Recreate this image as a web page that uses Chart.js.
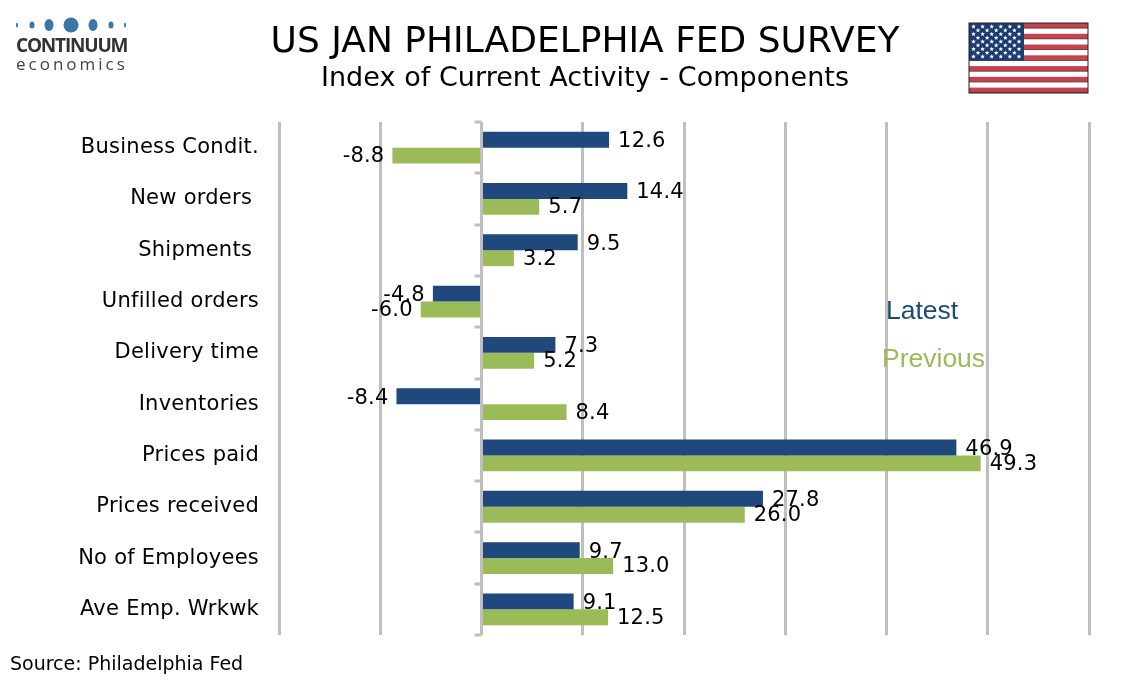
<!DOCTYPE html>
<html>
<head>
<meta charset="utf-8">
<title>US JAN PHILADELPHIA FED SURVEY</title>
<script src="https://cdn.jsdelivr.net/npm/chart.js@4"></script>
<style>
  html, body { margin: 0; padding: 0; background: #fff; overflow: hidden; }
  canvas { display: block; }
</style>
</head>
<body>
<canvas id="chart" width="1134" height="680"></canvas>
<script>
const categories = ['Business Condit.', 'New orders ', 'Shipments ', 'Unfilled orders', 'Delivery time',
  'Inventories', 'Prices paid', 'Prices received', 'No of Employees', 'Ave Emp. Wrkwk']
const latest = [12.6, 14.4, 9.5, -4.8, 7.3, -8.4, 46.9, 27.8, 9.7, 9.1]
const previous = [-8.8, 5.7, 3.2, -6.0, 5.2, 8.4, 49.3, 26.0, 13.0, 12.5]

const BLUE = '#1f497d'
const GREEN = '#9bbb59'
const GRID = '#bfbfbf'
const FONT = '"DejaVu Sans"'

function text(ctx, str, x, y, font, color, align, spacing) {
  ctx.font = font
  ctx.fillStyle = color
  ctx.textAlign = align || 'left'
  ctx.textBaseline = 'middle'
  ctx.letterSpacing = spacing || '0px'
  ctx.fillText(str, x, y)
  ctx.letterSpacing = '0px'
}

function drawLogo(ctx) {
  const dots = [[17, 1, 2.5], [32, 2.5, 3.5], [49, 4.5, 6], [71, 7.5, 7.5], [93, 4.5, 6], [111, 2.5, 3.5], [125, 1, 2.5]]
  ctx.fillStyle = '#3a76a8'
  dots.forEach(d => {
    ctx.beginPath()
    ctx.ellipse(d[0], 25, d[1], d[2], 0, 0, Math.PI * 2)
    ctx.fill()
  })
  text(ctx, 'CONTINUUM', 16, 47, '700 19px "Open Sans"', '#333333', 'left', '-1.2px')
  text(ctx, 'economics', 16, 65, '17px "Open Sans"', '#444444', 'left', '3px')
}

function star(ctx, cx, cy, r) {
  ctx.beginPath()
  for (let i = 0; i < 10; i++) {
    const a = -Math.PI / 2 + i * Math.PI / 5
    const rad = i % 2 ? r * 0.45 : r
    ctx.lineTo(cx + Math.cos(a) * rad, cy + Math.sin(a) * rad)
  }
  ctx.closePath()
  ctx.fill()
}

function drawFlag(ctx) {
  const x = 969, y = 23, w = 119, h = 70
  const stripe = h / 13
  ctx.fillStyle = '#ffffff'
  ctx.fillRect(x, y, w, h)
  for (let i = 0; i < 13; i += 2) {
    ctx.fillStyle = '#c4434f'
    ctx.fillRect(x, y + i * stripe, w, stripe)
    ctx.fillStyle = '#5a3a3c'
    ctx.fillRect(x, y + (i + 1) * stripe - 0.7, w, 0.7)
  }
  ctx.fillStyle = '#1c3c70'
  ctx.fillRect(x, y, 55, stripe * 7)
  ctx.fillStyle = '#ffffff'
  for (let row = 0; row < 9; row++) {
    const count = row % 2 ? 5 : 6
    for (let col = 0; col < count; col++) {
      star(ctx, x + (row % 2 ? 9 : 4.5) + col * 9.1, y + 3.6 + row * 3.75, 2.4)
    }
  }
  ctx.strokeStyle = '#222222'
  ctx.lineWidth = 1
  ctx.strokeRect(x, y, w, h)
}

const decorations = {
  id: 'decorations',
  afterDraw(chart) {
    const ctx = chart.ctx
    ctx.save()
    drawLogo(ctx)
    drawFlag(ctx)
    text(ctx, 'US JAN PHILADELPHIA FED SURVEY', 585, 43, '36px ' + FONT, '#000000', 'center')
    text(ctx, 'Index of Current Activity - Components', 585, 79, '27px ' + FONT, '#000000', 'center', '0.05px')
    text(ctx, 'Latest', 886, 312, '26.5px "Liberation Sans"', BLUE)
    text(ctx, 'Previous', 882, 360, '26.5px "Liberation Sans"', GREEN)
    text(ctx, 'Source: Philadelphia Fed', 10, 665, '19px ' + FONT, '#000000')
    ctx.restore()
  }
}

// wider text for the axis labels, plus the value next to each bar
const barLabels = {
  id: 'barLabels',
  beforeDraw(chart) {
    chart.ctx.letterSpacing = '0.25px'
  },
  afterDatasetsDraw(chart) {
    const ctx = chart.ctx
    const zero = chart.scales.x.getPixelForValue(0)
    const area = chart.chartArea
    const step = (area.bottom - area.top) / categories.length
    ctx.save()
    ctx.strokeStyle = GRID
    ctx.lineWidth = 3
    for (let i = 0; i <= categories.length; i++) {
      const y = Math.round(area.top + i * step)
      ctx.beginPath()
      ctx.moveTo(zero - 7, y)
      ctx.lineTo(zero, y)
      ctx.stroke()
    }
    chart.data.datasets.forEach((ds, d) => {
      chart.getDatasetMeta(d).data.forEach((bar, i) => {
        const v = ds.data[i]
        const neg = v < 0
        text(ctx, v.toFixed(1), bar.x + (neg ? -8 : 9), bar.y + (d === 0 ? 2 : 1),
          '21px ' + FONT, '#000000', neg ? 'right' : 'left', '0.2px')
      })
    })
    ctx.restore()
  }
}

new Chart(document.getElementById('chart'), {
  type: 'bar',
  data: {
    labels: categories,
    datasets: [
      { label: 'Latest', data: latest, backgroundColor: BLUE, categoryPercentage: 0.62, barPercentage: 1 },
      { label: 'Previous', data: previous, backgroundColor: GREEN, categoryPercentage: 0.62, barPercentage: 1 }
    ]
  },
  options: {
    indexAxis: 'y',
    responsive: false,
    animation: false,
    layout: { padding: { top: 122, right: 45, bottom: 45, left: 0 } },
    plugins: { legend: { display: false }, title: { display: false }, tooltip: { enabled: false } },
    scales: {
      x: {
        min: -20,
        max: 60,
        ticks: { display: false, stepSize: 10 },
        grid: { color: GRID, lineWidth: 3, drawTicks: false },
        border: { display: false }
      },
      y: {
        afterFit(scale) { scale.width = 279 },
        ticks: { color: '#000000', padding: 20, font: { family: 'DejaVu Sans', size: 21 } },
        grid: { display: false, drawTicks: false },
        border: { display: false }
      }
    }
  },
  plugins: [barLabels, decorations]
})
</script>
</body>
</html>
